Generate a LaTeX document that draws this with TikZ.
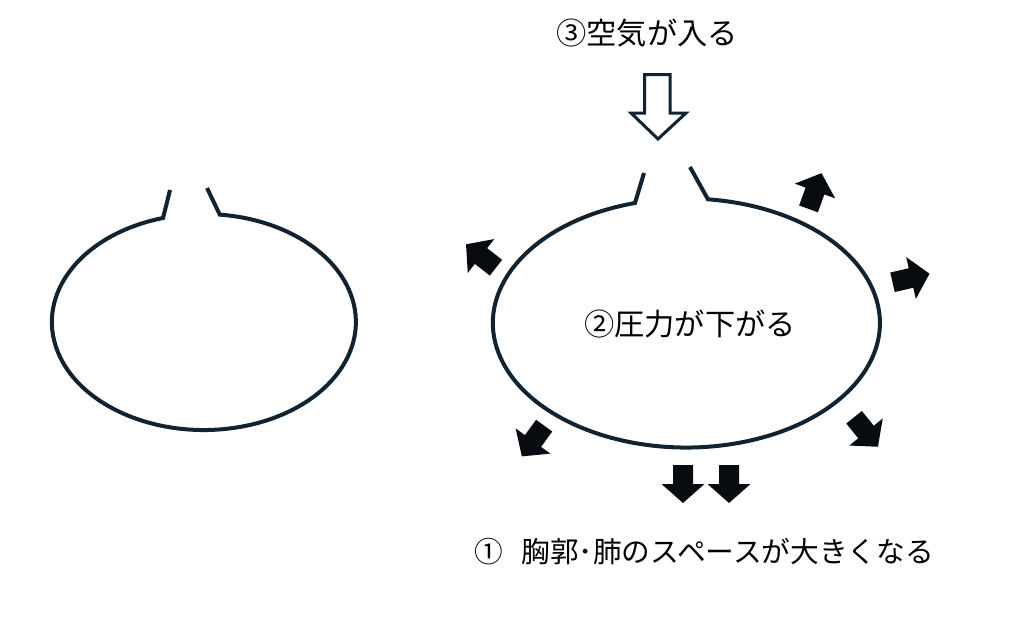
\documentclass[tikz,border=0pt]{standalone}
\usepackage{fontspec}
\setmainfont{Noto Sans CJK JP}
\usepackage{tikz}
\usetikzlibrary{calc}
\definecolor{lungline}{RGB}{17,34,48}
\definecolor{pusharrow}{RGB}{8,12,16}
\begin{document}
\begin{tikzpicture}[x=0.025cm,y=-0.025cm,
  lung/.style={draw=lungline,line width=0.1cm,line join=miter},
  label/.style={font=\fontsize{21.5}{24}\selectfont,inner sep=0pt},
  blk/.pic={\fill[pusharrow] (-19,-10) -- (0,-10) -- (0,-21.5) -- (19,0) -- (0,21.5) -- (0,10) -- (-19,10) -- cycle;}]
\useasboundingbox (0,0) rectangle (1024,619);
\draw[lung] (170,190) -- (163,218) arc[start angle=-105.6,end angle=-444,x radius=152,y radius=108] -- (207,188);
\draw[lung] (644,173) -- (635,203) arc[start angle=-105.4,end angle=-443.6,x radius=193.5,y radius=124.5] -- (690,167);
\draw[draw=lungline,line width=0.075cm,fill=white,line join=miter] (644.5,74.5) -- (670,74.5) -- (670,113) -- (686,113) -- (658,139) -- (631,113) -- (644.5,113) -- cycle;
\node[label] (air) at (647,33) {③空気が入る};
\node[label] (pressure) at (690,324) {②圧力が下がる};
\node[label,font=\fontsize{20.4}{24}\selectfont] (space) at (704,552) {①\hspace{0.65em}胸郭･肺のスペースが大きくなる};
\pic[rotate=142] at (481,256) {blk};
\pic[rotate=70] at (815,191) {blk};
\pic[rotate=13] at (911,278) {blk};
\pic[rotate=234] at (533,441) {blk};
\pic[rotate=-51] at (866,432) {blk};
\pic[rotate=-90] at (683,484) {blk};
\pic[rotate=-90] at (729,484) {blk};
\end{tikzpicture}
\end{document}
